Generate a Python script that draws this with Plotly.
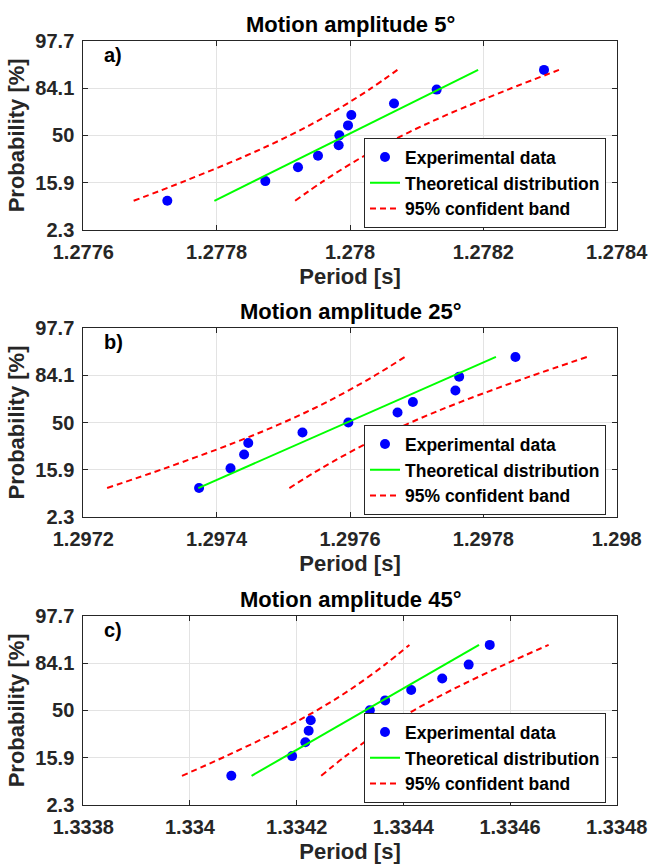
import plotly.graph_objects as go

# ---------------- data ----------------
# normal-probability-plot positions (z quantiles) of the 11 sorted samples
z_data = [-1.383, -0.967, -0.674, -0.431, -0.210, 0.0, 0.210, 0.431, 0.674, 0.967, 1.383]
# z levels where confidence band is sampled
z_band = [-1.383, -0.967, -0.431, 0.0, 0.431, 0.967, 1.383]
z_line = [-1.383, 1.383]

# panel a) amplitude 5 deg
period_a = [1.277726, 1.277873, 1.277922, 1.277952, 1.277983, 1.277984,
            1.277997, 1.278002, 1.278066, 1.278130, 1.278291]
line_a = [1.2777966, 1.2781922]
upper_a = [1.2776755, 1.2777520, 1.2778440, 1.2779099, 1.2779673, 1.2780287, 1.2780711]
lower_a = [1.2779177, 1.2779601, 1.2780215, 1.2780789, 1.2781448, 1.2782368, 1.2783134]

# panel b) amplitude 25 deg
period_b = [1.2973736, 1.2974208, 1.2974412, 1.2974474, 1.2975287, 1.2975975,
            1.2976713, 1.2976943, 1.2977581, 1.2977637, 1.2978481]
line_b = [1.2973724, 1.2978189]
upper_b = [1.2972357, 1.2973222, 1.2974259, 1.2975002, 1.2975651, 1.2976344, 1.2976822]
lower_b = [1.2975091, 1.2975569, 1.2976262, 1.2976911, 1.2977654, 1.2978691, 1.2979556]

# panel c) amplitude 45 deg
period_c = [1.3340775, 1.3341915, 1.3342163, 1.3342225, 1.3342264, 1.3343372,
            1.3343659, 1.3344147, 1.3344729, 1.3345225, 1.3345620]
line_c = [1.3341155, 1.3345419]
upper_c = [1.3339850, 1.3340675, 1.3341666, 1.3342376, 1.3342995, 1.3343656, 1.3344114]
lower_c = [1.3342460, 1.3342917, 1.3343579, 1.3344198, 1.3344907, 1.3345898, 1.3346724]

titles = ["Motion amplitude 5°", "Motion amplitude 25°", "Motion amplitude 45°"]
panel_labels = ["a)", "b)", "c)"]
x_ranges = [[1.2776, 1.2784], [1.2972, 1.2980], [1.3338, 1.3348]]
x_tickvals = [[1.2776, 1.2778, 1.2780, 1.2782, 1.2784],
              [1.2972, 1.2974, 1.2976, 1.2978, 1.2980],
              [1.3338, 1.3340, 1.3342, 1.3344, 1.3346, 1.3348]]
x_ticktext = [["1.2776", "1.2778", "1.278", "1.2782", "1.2784"],
              ["1.2972", "1.2974", "1.2976", "1.2978", "1.298"],
              ["1.3338", "1.334", "1.3342", "1.3344", "1.3346", "1.3348"]]
y_tickvals = [-2, -1, 0, 1, 2]
y_ticktext = ["2.3", "15.9", "50", "84.1", "97.7"]

periods = [period_a, period_b, period_c]
lines = [line_a, line_b, line_c]
uppers = [upper_a, upper_b, upper_c]
lowers = [lower_a, lower_b, lower_c]

# ---------------- layout geometry ----------------
W, H = 652, 864
x_dom = [83.3 / W, 616.7 / W]
y_px = [(40.7, 230.0), (327.7, 517.3), (615.7, 805.0)]  # top, bottom in px
FONT = "Liberation Sans, Arial, Helvetica, sans-serif"
DARK = "#262626"

fig = go.Figure()
layout = dict(
    width=W, height=H,
    margin=dict(l=0, r=0, t=0, b=0, autoexpand=False),
    paper_bgcolor="white", plot_bgcolor="white",
    font=dict(family=FONT, color="black"),
    annotations=[],
)

for i in range(3):
    sfx = "" if i == 0 else str(i + 1)
    xa, ya = "x" + sfx, "y" + sfx
    lg = "legend" + sfx
    top, bot = y_px[i]
    fig.add_trace(go.Scatter(
        x=periods[i], y=z_data, mode="markers", name="Experimental data",
        marker=dict(color="#0000FF", size=10), xaxis=xa, yaxis=ya, legend=lg))
    fig.add_trace(go.Scatter(
        x=lines[i], y=z_line, mode="lines", name="Theoretical distribution",
        line=dict(color="#00FF00", width=2), xaxis=xa, yaxis=ya, legend=lg))
    fig.add_trace(go.Scatter(
        x=uppers[i], y=z_band, mode="lines", name="95% confident band",
        line=dict(color="#FF0000", width=2, dash="6px,4px", shape="spline"),
        xaxis=xa, yaxis=ya, legend=lg))
    fig.add_trace(go.Scatter(
        x=lowers[i], y=z_band, mode="lines", name="95% confident band",
        line=dict(color="#FF0000", width=2, dash="6px,4px", shape="spline"),
        xaxis=xa, yaxis=ya, legend=lg, showlegend=False))

    axcommon = dict(showline=True, linecolor=DARK, linewidth=1, mirror="ticks",
                    ticks="inside", ticklen=5, tickcolor=DARK, automargin=False,
                    showgrid=True, gridcolor="#e3e3e3", gridwidth=1, zeroline=False,
                    tickfont=dict(family=FONT, size=20, color=DARK, weight="bold"))
    layout["xaxis" + sfx] = dict(
        axcommon, domain=x_dom, anchor=ya, range=x_ranges[i],
        tickmode="array", tickvals=x_tickvals[i], ticktext=x_ticktext[i],
        ticklabelstandoff=4,
        title=dict(text="Period [s]", standoff=6,
                   font=dict(family=FONT, size=22, color=DARK, weight="bold")))
    layout["yaxis" + sfx] = dict(
        axcommon, domain=[1 - bot / H, 1 - top / H], anchor=xa, range=[-2, 2],
        tickmode="array", tickvals=y_tickvals, ticktext=y_ticktext,
        ticklabelstandoff=4,
        title=dict(text="Probability [%]", standoff=4,
                   font=dict(family=FONT, size=22, color=DARK, weight="bold")))
    layout[lg] = dict(
        x=606 / W, xanchor="right", y=1 - (top + 142.5) / H, yanchor="middle",
        bgcolor="white", bordercolor=DARK, borderwidth=1,
        font=dict(family=FONT, size=17.5, color="black", weight="bold"),
        tracegroupgap=0, itemwidth=30)
    layout["annotations"].append(dict(
        text=titles[i], xref="paper", yref="paper", showarrow=False,
        x=(x_dom[0] + x_dom[1]) / 2, y=1 - (top - 16) / H,
        xanchor="center", yanchor="middle",
        font=dict(family=FONT, size=22, color="black", weight="bold")))
    layout["annotations"].append(dict(
        text=panel_labels[i], xref="paper", yref="paper", showarrow=False,
        x=113.3 / W, y=1 - (top + 14.5) / H,
        xanchor="center", yanchor="middle",
        font=dict(family=FONT, size=20, color="black", weight="bold")))

fig.update_layout(**layout)
fig.write_html("out.html", config={"displayModeBar": False},
               post_script="document.body.style.margin='0px';document.body.style.overflow='hidden';")
